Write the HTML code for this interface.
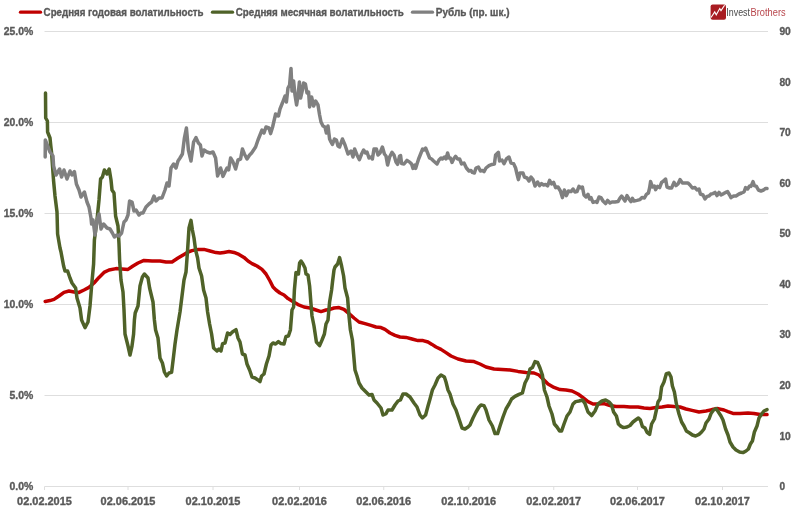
<!DOCTYPE html>
<html lang="ru"><head><meta charset="utf-8"><title>Волатильность рубля</title>
<style>
html,body{margin:0;padding:0;background:#fff;}
body{width:800px;height:512px;overflow:hidden;}
svg{display:block;}
svg text{font-family:"Liberation Sans","DejaVu Sans",sans-serif;}
.ax{font-size:10.8px;font-weight:bold;fill:#595959;stroke:#595959;stroke-width:0.35px;}
.lg{font-size:10.8px;font-weight:bold;fill:#595959;stroke:#595959;stroke-width:0.35px;}
</style></head><body>
<svg width="800" height="512" viewBox="0 0 800 512">
<rect x="0" y="0" width="800" height="512" fill="#ffffff"/>

<g stroke="#dedede" stroke-width="1" fill="none">
<line x1="44.5" y1="31.5" x2="768" y2="31.5"/>
<line x1="44.5" y1="122.5" x2="768" y2="122.5"/>
<line x1="44.5" y1="213.5" x2="768" y2="213.5"/>
<line x1="44.5" y1="304.5" x2="768" y2="304.5"/>
<line x1="44.5" y1="395.5" x2="768" y2="395.5"/>
<line x1="44.5" y1="486.5" x2="768" y2="486.5"/>
<line x1="44.5" y1="486.5" x2="44.5" y2="490"/>
<line x1="128" y1="486.5" x2="128" y2="490"/>
<line x1="213" y1="486.5" x2="213" y2="490"/>
<line x1="299.5" y1="486.5" x2="299.5" y2="490"/>
<line x1="383.75" y1="486.5" x2="383.75" y2="490"/>
<line x1="468.75" y1="486.5" x2="468.75" y2="490"/>
<line x1="553.75" y1="486.5" x2="553.75" y2="490"/>
<line x1="637.5" y1="486.5" x2="637.5" y2="490"/>
<line x1="722.5" y1="486.5" x2="722.5" y2="490"/>
</g>
<text class="ax" x="3.7" y="35.1" textLength="29.5" lengthAdjust="spacingAndGlyphs">25.0%</text>
<text class="ax" x="3.7" y="126.1" textLength="29.5" lengthAdjust="spacingAndGlyphs">20.0%</text>
<text class="ax" x="3.7" y="217.1" textLength="29.5" lengthAdjust="spacingAndGlyphs">15.0%</text>
<text class="ax" x="3.7" y="308.1" textLength="29.5" lengthAdjust="spacingAndGlyphs">10.0%</text>
<text class="ax" x="9.45" y="399.1" textLength="23.75" lengthAdjust="spacingAndGlyphs">5.0%</text>
<text class="ax" x="9.45" y="490.1" textLength="23.75" lengthAdjust="spacingAndGlyphs">0.0%</text>
<text class="ax" x="779.4" y="35.1" textLength="11.4" lengthAdjust="spacingAndGlyphs">90</text>
<text class="ax" x="779.4" y="85.6556" textLength="11.4" lengthAdjust="spacingAndGlyphs">80</text>
<text class="ax" x="779.4" y="136.211" textLength="11.4" lengthAdjust="spacingAndGlyphs">70</text>
<text class="ax" x="779.4" y="186.767" textLength="11.4" lengthAdjust="spacingAndGlyphs">60</text>
<text class="ax" x="779.4" y="237.322" textLength="11.4" lengthAdjust="spacingAndGlyphs">50</text>
<text class="ax" x="779.4" y="287.878" textLength="11.4" lengthAdjust="spacingAndGlyphs">40</text>
<text class="ax" x="779.4" y="338.433" textLength="11.4" lengthAdjust="spacingAndGlyphs">30</text>
<text class="ax" x="779.4" y="388.989" textLength="11.4" lengthAdjust="spacingAndGlyphs">20</text>
<text class="ax" x="779.4" y="439.544" textLength="11.4" lengthAdjust="spacingAndGlyphs">10</text>
<text class="ax" x="779.4" y="490.1" textLength="5.6" lengthAdjust="spacingAndGlyphs">0</text>
<text class="ax" x="17.1" y="505.4" textLength="54.8" lengthAdjust="spacingAndGlyphs">02.02.2015</text>
<text class="ax" x="100.6" y="505.4" textLength="54.8" lengthAdjust="spacingAndGlyphs">02.06.2015</text>
<text class="ax" x="185.6" y="505.4" textLength="54.8" lengthAdjust="spacingAndGlyphs">02.10.2015</text>
<text class="ax" x="272.1" y="505.4" textLength="54.8" lengthAdjust="spacingAndGlyphs">02.02.2016</text>
<text class="ax" x="356.35" y="505.4" textLength="54.8" lengthAdjust="spacingAndGlyphs">02.06.2016</text>
<text class="ax" x="441.35" y="505.4" textLength="54.8" lengthAdjust="spacingAndGlyphs">02.10.2016</text>
<text class="ax" x="526.35" y="505.4" textLength="54.8" lengthAdjust="spacingAndGlyphs">02.02.2017</text>
<text class="ax" x="610.1" y="505.4" textLength="54.8" lengthAdjust="spacingAndGlyphs">02.06.2017</text>
<text class="ax" x="695.1" y="505.4" textLength="54.8" lengthAdjust="spacingAndGlyphs">02.10.2017</text>
<polyline points="45.2,301.4 50,300.6 54,299.4 59,296 64,292.4 69,291 74,292 79,292.4 84,290 89,287.4 94,283 99,277.4 104,272.4 109,270 116,268.6 122,269 128,269.4 133,266 138,263 144,260.4 152,261 160,261 166,262 172,262 178,258 184,254.4 188,252 192,250.6 198,249.4 204,249.4 210,251 216,252.6 220,253 224,252.4 229,251.6 234,252.4 239,254.4 244,257.4 248,261 252,263.6 257,266 262,269.4 266,274 270,281 273,287 276,290 280,293 284,295 288,298.6 292,301 298,304.6 304,307 310,308 316,310 321,311.6 326,310 330,309.4 334,308 339,307.6 344,309.4 349,313.6 354,318 359,322 365,323.6 371,325.4 376,327 381,327.6 385,329.4 390,333 395,335.4 400,337 406,337.4 412,339 418,340.6 423,340.6 428,342 432,344.4 436,347 441,349.4 446,352.6 451,356 458,359 466,361 474,361.6 480,364 486,367 494,369 502,369.4 510,370 518,371.4 526,372.4 534,373 539,375 543,379 548,384 554,387.4 560,389.6 566,390 572,391 578,394 583,397.6 588,401.6 593,404 599,404 604,403.6 610,405.6 616,406.6 624,406.6 630,407 638,407 644,408 650,408.6 656,407.6 662,407 668,406 674,406.6 680,407 686,409 692,410.4 699,412 706,411 712,409.6 718,408.6 724,410 728,411.6 733,413.4 740,413.4 748,413 754,413.4 760,414.4 767,414.6" fill="none" stroke="#c00000" stroke-width="3.5" stroke-linejoin="round" stroke-linecap="round"/>
<polyline points="45.5,93 45.7,118 47.4,121 47.6,132 50,138 50.8,146 51.6,153 52.5,166 53.5,180 55,196 57,212 57.6,234 60,248 61,252 63.6,266 65,271 67.6,271 70,278 72,283 75.6,288 77,298 80,308 81.6,320 85,327.6 88,322 90,306 91.6,286 93.6,264 94.4,240 97,220 99,200 100.6,179 102.4,177 104.4,170 107,174 109.2,169 111,180 112,190 114,193 115.6,216 118,226 119,244 119.6,260 121,280 123,292 124,310 125,334 128,346 130,355 132,346 133.6,334 134.4,320 135.2,313 138,306 140,286 142.4,277 144.4,274 148,278 149.6,288 153,302 154.4,320 155.6,330 158,338 160,358 162.4,363 164.4,372 166.6,376 169,373 171.6,372.4 173.6,356 175,344 177,330 180,312 182,296 184,280 186,272 187.6,250 189,228 191,220.4 192.4,230 194,238 195.6,250 197.6,258 199,268 201.6,276 203.6,290 206,298 207.6,312 209.6,324 211.6,334 213.6,348 217,351 219,349 221,351 222.6,343.6 225,343 227.6,333 230,334.4 232.4,332 236,329.6 238,338 240,342 242.4,354 245,355 247,364 249.6,370 252,377 255,378 258,380 260,381.6 261.6,376 264,374 266.4,364 269,356 271,345 273,343 275.6,344 278.4,341.6 281,343.6 284,344 286,336.4 288.4,336 290.4,330 292,310 293.6,307 294.4,290 296,272.4 298.4,274 299.6,263 301,261 303,264 305,268 306,274 308,275 309.6,286 311,304 312,316 314,326 316.4,342 319.6,345.6 322,340 324.4,334 326,324 328,320 329.6,302 331.6,290 332.5,282 334,270 335,267 337.6,264 339.6,257.6 341.6,266 343.6,276 345,288 347.6,298 349,316 350.4,330 352.4,340 353.6,354 355,370 357,376 359,383 362,388 366,392 369,395 372,394.4 374,400 377,403 381,408 383,415 386,413.6 388,410 392,410 395,405 398,401 400.4,400 403,394 406,394 410,397 414,403 417,407 420,415 422.4,418 425.6,415 428,406 430,399 432.4,390 435,385 438,378 441,375 444.4,377 446,382 448,390 450,394 453,404 456,410 459,419 462,428 465,429 468,427 470,425 473,418 476,412 479,407 481,405 484,405.6 486,410 489,420 492.4,426 495,433.6 497.6,433.6 500,426 503,417 506,409 509,404 511.6,399 515,396.4 519,394.4 522.4,393 525,383 527.6,378 530,369 532.4,367.6 535,361.6 537.6,362.4 540,368 542.4,375 544.4,390 547,397 549,406 552,414 554.4,424 557,427 559.6,431 561.6,431 564,424 567,416 570,412 573,404 575.6,401.6 579,401 582.4,400 585,403.6 588,412 591.6,415.6 595,411 598,404 602,401 605.6,400 609,402 611.6,405 613.6,412 616.4,416 618.4,424 621,426.4 623.6,427.6 627,427 630,425.5 633,422 635.6,420 638.4,418 640.4,420 642.4,426.4 645,428 647,432.4 649.6,434.4 651.6,424 654.4,419 656.4,410 658,402 660,399 661.6,387 664,382 666.4,373.6 669,373 671,377 672.4,386 674.4,392 676.4,404 679,414 681.6,422 684,426 686.4,431 689.6,433 692.4,435 695.6,436 699,434.4 701.6,432 704,429 706,423 709,419 711,413.6 713.6,410 716,408.6 718.4,412 721,416 723,420 725.6,429 728,435 730,442 733,447 736,450 739.6,452 743,452.6 746,451 748.4,449 750.4,444 752.4,441 754.4,432 757,426 759,418 761.6,414 764,411 767,409.6" fill="none" stroke="#4f6228" stroke-width="3.5" stroke-linejoin="round" stroke-linecap="round"/>
<polyline points="45.2,157 45.3,140 50,152 53,156 53.6,166 56,175 59.6,169 61.6,177 64,170 67,179 70,171 72,175 74.4,171.6 76.4,184 79,190 81,197 84.4,192 87,202 89,207 91,218 91.6,224 93,220 95,235 97,220 99,214 101,229 103.6,224 107,228 110,229 112.4,233 114.4,237 117,235 119,236 121.6,233 124,222 126,220 128,215 129.6,201 132,202 134,211 136,210 139,215 141,213 143,213 146,207 149,204 151.6,202 154,196 156,201 159,198 162,198 165,190 167,183 169,186 171,168 173.6,164 176,168 178,161 180,158 182.4,154 184.4,138 186.4,128 188.4,150 191,161 193.6,142 196,137.6 198.4,143 200.4,145 202,156 204,150 207,152 210,153 213,152 215.6,158 217.6,176 220.6,168 223,176.4 225,172 227,168 228.6,170 230.6,158 233,162 235.6,169 238,160 240.6,159 242.4,149 244.4,154 247,159 249.6,155 251.6,153 253.6,150 255.6,147 258,140 260,135 262,130 264,133 266,127 269,128 270.6,133.6 272.6,127 275.6,114 278.4,116 280,109 282.4,103 285,96 286.4,102 288,88 289.6,85 291,68.4 292,91 293.6,81 295,95 296.6,105 298,96 299.4,82 300.6,98 302.4,90 303.6,83 305.4,84 307,93 308.6,92 309.6,107 311.6,97 313.6,106 315.6,101 318,105 319.6,115 321,122 323,126 325,127 326.4,133 328,126 329.6,139 331,142 332.4,144.5 334.4,139 336.4,140 338,146 339.6,147 342.4,139 345,145 348,154 351,151 353,157 354.6,149 357,155 359.4,159.6 361.6,154 363.6,150 365.6,153 367,152 369,158 371,157 372.4,159 374,149 376.4,149 378,155 380,153 382.4,147 384.4,154 386,156 387.6,165 389.6,157 392,152.4 394,155 396,162 397.6,164.4 399.6,156 400.6,155.6 401.6,163.6 404,164 407,160.4 410,162.4 411.6,164 413,168.4 415,165 415.6,168.4 417,164 418.6,159 420.6,154 422.6,149 424,150 425.6,148 427.6,153 429.6,158 431.6,159 433.6,161 437,164 439,160 441,158 442.4,159 444.4,157 446,159 447.6,153 449,158 450.4,158 452,162.4 453.6,159 455.6,156.4 457.6,159 459.6,159 461.6,164 464,163 466.4,168 469,171 471,170.4 472.4,172.4 474.4,173 476,168 478.4,167 480.4,171 482.4,170.4 484,171.6 486,168 489,165.6 492,164.4 494.4,164 495.6,155 498.4,152.4 499.6,161 502,160 504,163.6 506.4,159 509,157 511,163 513.6,163.6 515.6,168 517,174 518.4,179.6 520,173 523,173 524.4,177 527,178 529,181 531,177 533,179.6 535,186 537.6,182 539.6,185.6 541.6,183.6 543.6,185 545.6,184.4 547.6,186 549.6,180.4 551.6,184 553.6,182.4 555.6,187.6 558,187 560.4,191 562.4,197.6 564.4,190 566.4,195.6 568.4,191 571,191.6 573,189 575,192 577,191.6 579,186.4 581,188 582.4,187 584,195 586,197 588,194.4 589.6,199 591,197.6 593,202.4 595.6,201.6 597,202.4 599,197 601,197.6 603,201 605.6,203.6 607.6,200.4 610,203 612,202 615,202 618,201.6 620,198 621.6,196 623.6,199 625,201 627,195.6 629,199 631,201.6 632.4,198.4 634,201 637,200.4 640,199.6 642,197.6 644.4,198 646.4,194.4 648.4,193 649.6,188 650.6,181.6 652.4,187 654.4,186 655.6,189.6 657.6,186.4 659.6,187.6 661.6,182.4 663.6,181 665.6,179 667,187 669.6,188 671.6,188 674,182.4 676,185.6 678,184 680,179.6 682.4,183 685,183 688,183 690,185 692.4,188 695,187.6 697,190 699,189 700.4,194 703,195 705,199 707,196.4 709,196 711,194 713,193.6 715,192.4 717,195.6 719,192.4 721,195 723.6,193.6 725.6,192.4 727.6,191.6 729.6,195 731,197.6 733.6,196 736,196 739,194 741.6,193 744,192 745.6,187.6 747.6,189 749.6,186 751,186.4 753,181.6 754.4,185.6 756.4,186.4 758.4,190 761,191 763.6,190 765.6,188.4 767,188.6" fill="none" stroke="#808080" stroke-width="3.5" stroke-linejoin="round" stroke-linecap="round"/>
<g stroke-width="3.3" stroke-linecap="round" fill="none">
<line x1="20.5" y1="12.2" x2="40.5" y2="12.2" stroke="#c00000"/>
<line x1="212.5" y1="12.2" x2="232.5" y2="12.2" stroke="#4f6228"/>
<line x1="412.5" y1="12.2" x2="432.5" y2="12.2" stroke="#808080"/>
</g>
<text class="lg" x="43.6" y="16" textLength="160" lengthAdjust="spacingAndGlyphs">Средняя годовая волатильность</text>
<text class="lg" x="235.8" y="16" textLength="168" lengthAdjust="spacingAndGlyphs">Средняя месячная волатильность</text>
<text class="lg" x="435.8" y="16" textLength="73.7" lengthAdjust="spacingAndGlyphs">Рубль (пр. шк.)</text>
<rect x="710.6" y="4.4" width="15.4" height="15.4" rx="2" ry="2" fill="#a81c22"/>
<polyline points="711,17.5 714.75,11.9 716.25,14.75 719.75,8.5 721,10.6 724.6,5.2" fill="none" stroke="#ffffff" stroke-width="1.1" stroke-linejoin="miter"/>
<text x="726.3" y="16" font-size="10px" fill="#4a4a4a" textLength="23.7" lengthAdjust="spacingAndGlyphs">Invest</text>
<text x="750.6" y="16" font-size="10px" fill="#b8454b" textLength="35" lengthAdjust="spacingAndGlyphs">Brothers</text>
</svg></body></html>
